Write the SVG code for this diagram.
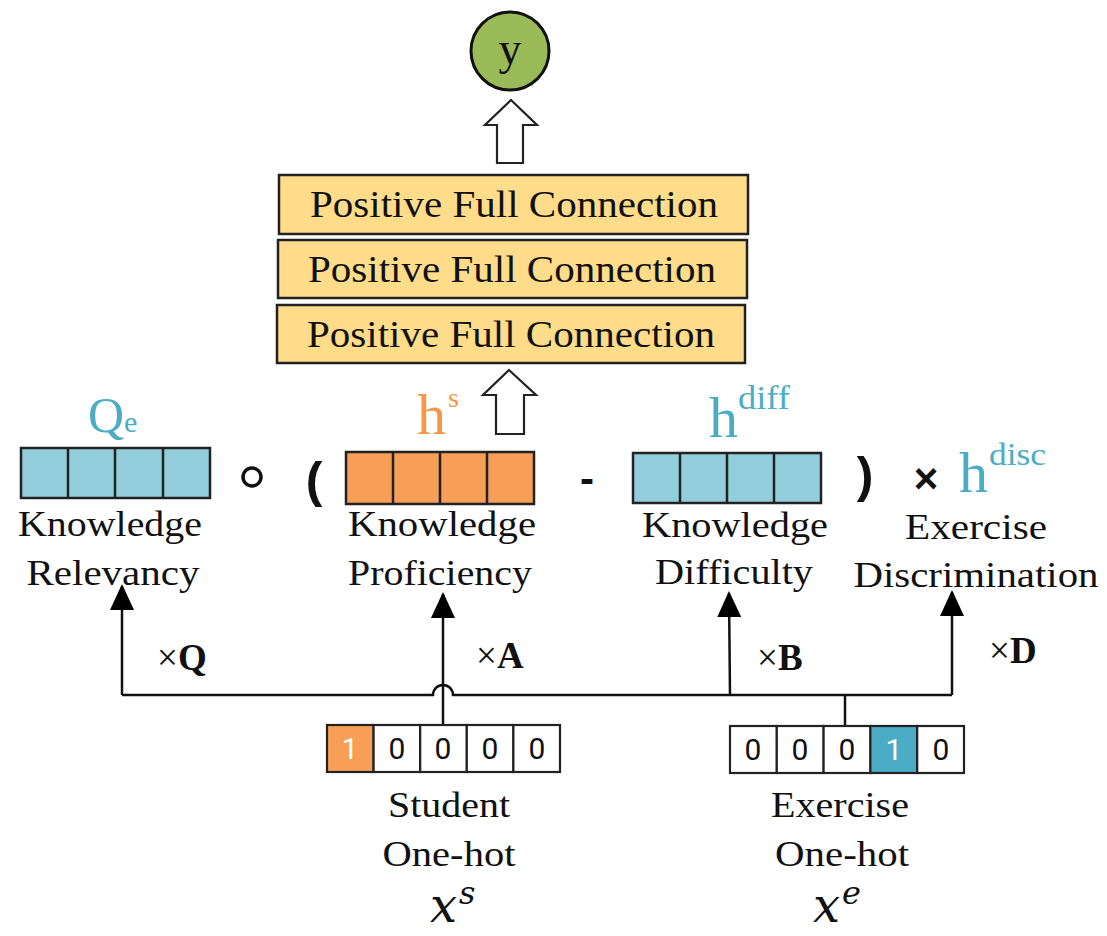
<svg xmlns="http://www.w3.org/2000/svg" width="1107" height="936" viewBox="0 0 1107 936">
  <defs>
    <marker id="tip" markerUnits="userSpaceOnUse" markerWidth="26" markerHeight="24" viewBox="0 0 26 24" refX="24" refY="12" orient="auto">
      <path d="M0,0 L26,12 L0,24 Z" fill="#000"/>
    </marker>
  </defs>
  <style>
    .serif { font-family: "Liberation Serif", "Times New Roman", serif; }
    .lbl { font-family: "Liberation Serif", "Times New Roman", serif; font-size: 36px; fill: #111; text-anchor: middle; }
    .fc { fill: #FFDC8A; stroke: #222; stroke-width: 2.5; }
    .fctext { font-family: "Liberation Serif", "Times New Roman", serif; font-size: 38px; fill: #111; text-anchor: middle; }
    .vec { stroke: #222; stroke-width: 2.5; }
    .blue { fill: #92CDDC; }
    .orange { fill: #F79E57; }
    .cell { fill: #fff; stroke: #222; stroke-width: 2.2; }
    .digit { font-family: Roboto, "Liberation Sans", sans-serif; font-size: 30px; fill: #111; text-anchor: middle; }
    .hollow { fill: #fff; stroke: #222; stroke-width: 2.2; stroke-linejoin: miter; }
    .wire { fill: none; stroke: #111; stroke-width: 2.5; }
    .op { font-family: "Liberation Sans", Arial, sans-serif; font-weight: bold; fill: #111; text-anchor: middle; }
    .mult { font-family: "Liberation Serif", "Times New Roman", serif; font-size: 37px; fill: #111; }
    .sym { font-family: "Liberation Serif", "Times New Roman", serif; fill: #4BACC6; }
    .var { font-family: "DejaVu Serif", serif; font-style: italic; fill: #111; }
  </style>

  <!-- output node -->
  <g id="output">
    <circle cx="510" cy="51" r="39" fill="#9BBB59" stroke="#111" stroke-width="3"/>
    <text class="serif" x="510" y="64" font-size="46" text-anchor="middle" fill="#111">y</text>
  </g>

  <!-- hollow arrow to output -->
  <g id="arrow-top">
    <path class="hollow" d="M511,100 L537,125 L523,125 L523,163 L497,163 L497,125 L485,125 Z"/>
  </g>

  <!-- stacked positive full connection layers -->
  <g id="layer1">
    <rect class="fc" x="279" y="175" width="469" height="59"/>
    <text class="fctext" x="514" y="217" textLength="408" lengthAdjust="spacingAndGlyphs">Positive Full Connection</text>
  </g>
  <g id="layer2">
    <rect class="fc" x="278" y="240" width="469" height="58"/>
    <text class="fctext" x="512" y="282" textLength="408" lengthAdjust="spacingAndGlyphs">Positive Full Connection</text>
  </g>
  <g id="layer3">
    <rect class="fc" x="277" y="305" width="468" height="58"/>
    <text class="fctext" x="511" y="347" textLength="408" lengthAdjust="spacingAndGlyphs">Positive Full Connection</text>
  </g>

  <!-- hollow arrow into the layers -->
  <g id="arrow-mid">
    <path class="hollow" d="M509,370 L536,395 L524,395 L524,434 L496,434 L496,395 L483,395 Z"/>
  </g>

  <!-- knowledge relevancy vector Qe -->
  <g id="relevancy">
    <text class="sym" x="88" y="432" font-size="50">Q<tspan font-size="30">e</tspan></text>
    <rect class="vec blue" x="21" y="448" width="189" height="50"/>
    <path class="vec" d="M68,448 V498 M115,448 V498 M163,448 V498"/>
    <text class="lbl" x="110" y="536" textLength="184" lengthAdjust="spacingAndGlyphs">Knowledge</text>
    <text class="lbl" x="113" y="585" textLength="173" lengthAdjust="spacingAndGlyphs">Relevancy</text>
  </g>

  <!-- operators -->
  <g id="operators">
    <circle cx="252" cy="477" r="9" fill="none" stroke="#111" stroke-width="3.5"/>
    <text class="op" x="314" y="497" font-size="50">(</text>
    <text class="op" x="587" y="493" font-size="42">-</text>
    <text class="op" x="865" y="492" font-size="50">)</text>
    <text class="op" x="926" y="493" font-size="42">×</text>
  </g>

  <!-- knowledge proficiency vector hs -->
  <g id="proficiency">
    <text class="serif" x="417" y="434" font-size="58" fill="#F79646">h<tspan font-size="28" dx="2" dy="-27">s</tspan></text>
    <rect class="vec orange" x="346" y="452" width="188" height="52"/>
    <path class="vec" d="M393,452 V504 M440,452 V504 M487,452 V504"/>
    <text class="lbl" x="442" y="536" textLength="188" lengthAdjust="spacingAndGlyphs">Knowledge</text>
    <text class="lbl" x="440" y="585" textLength="184" lengthAdjust="spacingAndGlyphs">Proficiency</text>
  </g>

  <!-- knowledge difficulty vector hdiff -->
  <g id="difficulty">
    <text class="sym" x="709" y="437" font-size="58">h<tspan font-size="34" dy="-28" textLength="52" lengthAdjust="spacingAndGlyphs">diff</tspan></text>
    <rect class="vec blue" x="633" y="453" width="188" height="50"/>
    <path class="vec" d="M680,453 V503 M727,453 V503 M774,453 V503"/>
    <text class="lbl" x="735" y="537" textLength="186" lengthAdjust="spacingAndGlyphs">Knowledge</text>
    <text class="lbl" x="734" y="584" textLength="158" lengthAdjust="spacingAndGlyphs">Difficulty</text>
  </g>

  <!-- exercise discrimination hdisc -->
  <g id="discrimination">
    <text class="sym" x="959" y="492" font-size="58">h<tspan font-size="32" dx="1" dy="-27" textLength="57" lengthAdjust="spacingAndGlyphs">disc</tspan></text>
    <text class="lbl" x="976" y="539" textLength="142" lengthAdjust="spacingAndGlyphs">Exercise</text>
    <text class="lbl" x="976" y="587" textLength="245" lengthAdjust="spacingAndGlyphs">Discrimination</text>
  </g>

  <!-- connectors from the one-hot inputs -->
  <g id="connectors">
    <path class="wire" d="M122,695 H433 A10,10 0 0 1 453,695 H952"/>
    <line class="wire" x1="122" y1="695" x2="122" y2="586" marker-end="url(#tip)"/>
    <line class="wire" x1="443" y1="725" x2="443" y2="594" marker-end="url(#tip)"/>
    <line class="wire" x1="730" y1="695" x2="729" y2="593" marker-end="url(#tip)"/>
    <line class="wire" x1="952" y1="695" x2="952" y2="592" marker-end="url(#tip)"/>
    <line class="wire" x1="845" y1="695" x2="845" y2="726"/>
    <text class="mult" x="157" y="670">×<tspan font-weight="bold">Q</tspan></text>
    <text class="mult" x="476" y="668">×<tspan font-weight="bold">A</tspan></text>
    <text class="mult" x="757" y="670">×<tspan font-weight="bold">B</tspan></text>
    <text class="mult" x="989" y="663">×<tspan font-weight="bold">D</tspan></text>
  </g>

  <!-- student one-hot input -->
  <g id="student">
    <rect class="cell" x="327" y="725" width="46.6" height="47" style="fill:#F79E57"/>
    <rect class="cell" x="373.6" y="725" width="46.6" height="47"/>
    <rect class="cell" x="420.2" y="725" width="46.6" height="47"/>
    <rect class="cell" x="466.8" y="725" width="46.6" height="47"/>
    <rect class="cell" x="513.4" y="725" width="46.6" height="47"/>
    <text class="digit" x="350" y="759" style="fill:#fff">1</text>
    <text class="digit" x="397" y="759">0</text>
    <text class="digit" x="443" y="759">0</text>
    <text class="digit" x="490" y="759">0</text>
    <text class="digit" x="537" y="759">0</text>
    <text class="lbl" x="449" y="817" textLength="122" lengthAdjust="spacingAndGlyphs">Student</text>
    <text class="lbl" x="449" y="866" textLength="133" lengthAdjust="spacingAndGlyphs">One-hot</text>
    <text class="var" x="430" y="922" font-size="48">x<tspan font-size="32" dx="2" dy="-18">s</tspan></text>
  </g>

  <!-- exercise one-hot input -->
  <g id="exercise">
    <rect class="cell" x="730" y="726" width="46.8" height="47"/>
    <rect class="cell" x="776.8" y="726" width="46.8" height="47"/>
    <rect class="cell" x="823.6" y="726" width="46.8" height="47"/>
    <rect class="cell" x="870.4" y="726" width="46.8" height="47" style="fill:#4BACC6"/>
    <rect class="cell" x="917.2" y="726" width="46.8" height="47"/>
    <text class="digit" x="753" y="760">0</text>
    <text class="digit" x="800" y="760">0</text>
    <text class="digit" x="847" y="760">0</text>
    <text class="digit" x="894" y="760" style="fill:#fff">1</text>
    <text class="digit" x="941" y="760">0</text>
    <text class="lbl" x="840" y="817" textLength="138" lengthAdjust="spacingAndGlyphs">Exercise</text>
    <text class="lbl" x="842" y="866" textLength="134" lengthAdjust="spacingAndGlyphs">One-hot</text>
    <text class="var" x="813" y="922" font-size="48">x<tspan font-size="32" dx="2" dy="-18">e</tspan></text>
  </g>
</svg>
